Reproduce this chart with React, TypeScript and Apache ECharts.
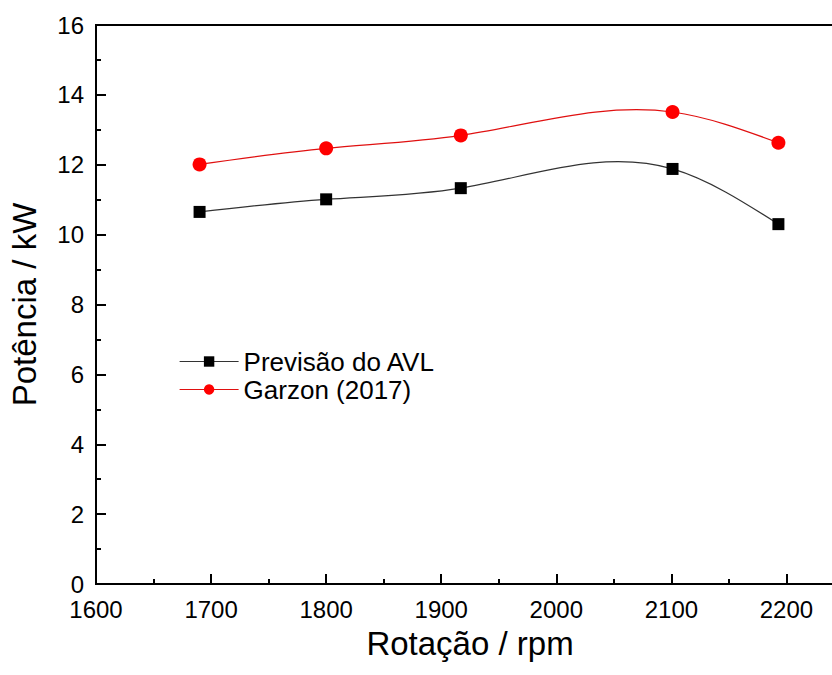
import React, { useEffect, useRef } from "react";
import * as echarts from "echarts";

const rotacao = [1690, 1800, 1917, 2101, 2193];
const previsaoAVL = [10.65, 11.01, 11.33, 11.88, 10.3];
const garzon2017 = [12.01, 12.47, 12.84, 13.51, 12.63];
const seriesNames = ["Previsão do AVL", "Garzon (2017)"];
const xTicks = { min: 1600, max: 2250, step: 100 };
const yTicks = { min: 0, max: 16, step: 2 };

const FONT = "'Liberation Sans', Arial, sans-serif";

// Natural cubic spline through pixel points, returned as SVG path data (cubic beziers)
function splinePath(pts: number[][]): string {
  const n = pts.length;
  const x = pts.map((p) => p[0]);
  const y = pts.map((p) => p[1]);
  const h: number[] = [];
  for (let i = 0; i < n - 1; i++) h.push(x[i + 1] - x[i]);
  const M = new Array(n).fill(0);
  if (n > 2) {
    const a: number[] = [], b: number[] = [], c: number[] = [], d: number[] = [];
    for (let i = 1; i < n - 1; i++) {
      a.push(h[i - 1]);
      b.push(2 * (h[i - 1] + h[i]));
      c.push(h[i]);
      d.push(6 * ((y[i + 1] - y[i]) / h[i] - (y[i] - y[i - 1]) / h[i - 1]));
    }
    const m = b.length;
    for (let i = 1; i < m; i++) {
      const w = a[i] / b[i - 1];
      b[i] -= w * c[i - 1];
      d[i] -= w * d[i - 1];
    }
    const sol = new Array(m).fill(0);
    sol[m - 1] = d[m - 1] / b[m - 1];
    for (let i = m - 2; i >= 0; i--) sol[i] = (d[i] - c[i] * sol[i + 1]) / b[i];
    for (let i = 0; i < m; i++) M[i + 1] = sol[i];
  }
  let path = `M${x[0]},${y[0]}`;
  for (let i = 0; i < n - 1; i++) {
    const s = (y[i + 1] - y[i]) / h[i];
    const d0 = s - (h[i] * (2 * M[i] + M[i + 1])) / 6;
    const d1 = s + (h[i] * (M[i] + 2 * M[i + 1])) / 6;
    const c1x = x[i] + h[i] / 3, c1y = y[i] + (d0 * h[i]) / 3;
    const c2x = x[i + 1] - h[i] / 3, c2y = y[i + 1] - (d1 * h[i]) / 3;
    path += ` C${c1x},${c1y} ${c2x},${c2y} ${x[i + 1]},${y[i + 1]}`;
  }
  return path;
}

export default function App() {
  const ref = useRef<HTMLDivElement>(null);
  useEffect(() => {
    if (!ref.current) return;
    const chart = echarts.init(ref.current, undefined, { renderer: "svg" });
    const pair = (ys: number[]) => rotacao.map((x, i) => [x, ys[i]]);
    const curve = (ys: number[], color: string, width: number) => ({
      type: "custom",
      coordinateSystem: "cartesian2d",
      silent: true,
      z: 1,
      data: pair(ys),
      encode: { x: 0, y: 1 },
      renderItem: (params: any, api: any) => {
        if (params.dataIndex !== 0) return null;
        const pts = pair(ys).map((p) => api.coord(p));
        return {
          type: "path",
          shape: { pathData: splinePath(pts) },
          style: { fill: "none", stroke: color, lineWidth: width },
        };
      },
    });
    const axisCommon = {
      type: "value",
      nameLocation: "middle",
      nameTextStyle: { fontFamily: FONT, fontSize: 33, color: "#000" },
      axisLine: { onZero: false, lineStyle: { color: "#000", width: 2 } },
      axisTick: { inside: true, length: 10, lineStyle: { color: "#000", width: 2 } },
      minorTick: { show: true, splitNumber: 2, length: 5, lineStyle: { color: "#000", width: 2 } },
      splitLine: { show: false },
    };
    chart.setOption({
      animation: false,
      backgroundColor: "#ffffff",
      textStyle: { fontFamily: FONT, color: "#000" },
      grid: {
        left: 95,
        top: 25,
        bottom: 91,
        right: 0,
        show: true,
        borderColor: "#000",
        borderWidth: 2,
      },
      legend: {
        orient: "vertical",
        left: 174,
        top: 343,
        itemWidth: 59,
        itemHeight: 13,
        itemGap: 1,
        textStyle: { fontFamily: FONT, fontSize: 26, color: "#000", lineHeight: 27 },
        data: [
          { name: seriesNames[0], lineStyle: { opacity: 1, color: "#333", width: 1.2 } },
          { name: seriesNames[1], lineStyle: { opacity: 1, color: "#e01010", width: 1.2 } },
        ],
      },
      xAxis: {
        ...axisCommon,
        min: xTicks.min,
        max: xTicks.max,
        interval: xTicks.step,
        name: "Rotação / rpm",
        nameGap: 43,
        axisLabel: {
          fontFamily: FONT,
          fontSize: 24,
          lineHeight: 20,
          color: "#000",
          margin: 15,
          showMaxLabel: false,
          formatter: (v: number) => String(v),
        },
      },
      yAxis: {
        ...axisCommon,
        min: yTicks.min,
        max: yTicks.max,
        interval: yTicks.step,
        name: "Potência / kW",
        nameGap: 55,
        axisLabel: {
          fontFamily: FONT,
          fontSize: 24,
          lineHeight: 20,
          color: "#000",
          margin: 12,
          formatter: (v: number) => String(v),
        },
      },
      series: [
        curve(previsaoAVL, "#333", 1.2),
        curve(garzon2017, "#e01010", 1.2),
        {
          name: seriesNames[0],
          type: "line",
          data: pair(previsaoAVL),
          z: 3,
          symbol: "rect",
          symbolSize: 12,
          itemStyle: { color: "#000" },
          lineStyle: { color: "#333", width: 1.2, opacity: 0 },
        },
        {
          name: seriesNames[1],
          type: "line",
          data: pair(garzon2017),
          z: 3,
          symbol: "circle",
          symbolSize: 14,
          itemStyle: { color: "#ff0000" },
          lineStyle: { color: "#e01010", width: 1.2, opacity: 0 },
        },
      ],
    });
    return () => chart.dispose();
  }, []);
  return (
    <div style={{ position: "absolute", left: 0, top: 0, width: 832, height: 675, overflow: "hidden" }}>
      <div ref={ref} style={{ width: 844, height: 675 }} />
    </div>
  );
}
